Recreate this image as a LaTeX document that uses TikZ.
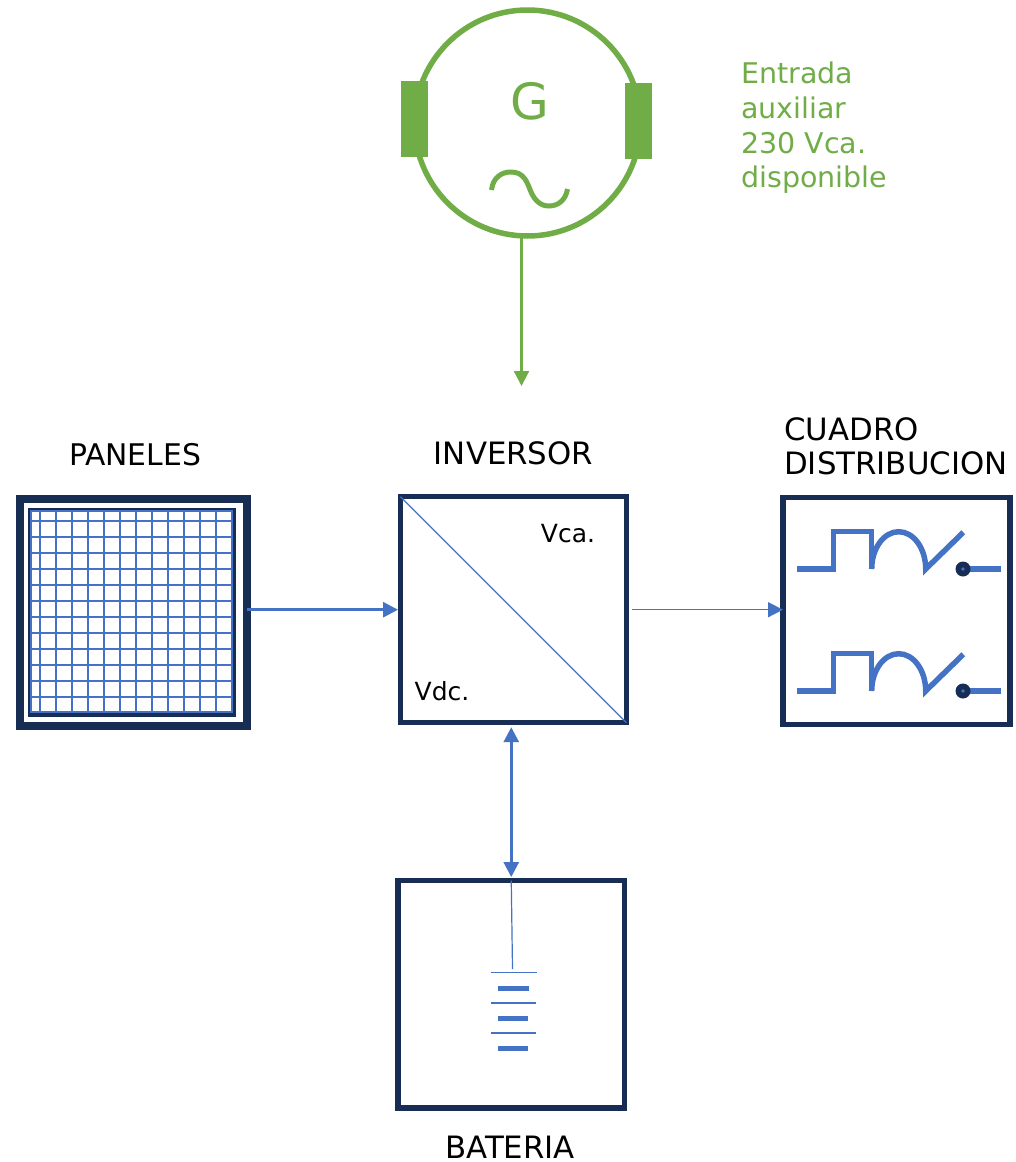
\documentclass[tikz,border=0pt]{standalone}
\usepackage{fontspec}
\setmainfont{DejaVu Sans}
\usetikzlibrary{arrows.meta}
\definecolor{navy}{HTML}{172D54}
\definecolor{cblue}{HTML}{4472C4}
\definecolor{cgreen}{HTML}{70AD47}
\tikzset{
  boxnode/.style={draw=navy,line width=5.5pt,rectangle,outer sep=0pt,inner sep=0pt},
  labelcap/.style={inner sep=0pt,text=black,font=\fontsize{30.8}{34}\selectfont},
  labelaux/.style={inner sep=0pt,text=cgreen,font=\fontsize{28.5}{34.7}\selectfont},
  label25/.style={inner sep=0pt,text=black,font=\fontsize{25}{30}\selectfont},
  tipb/.style={-{Triangle[length=15pt,width=15pt]}},
  tipbb/.style={{Triangle[length=15pt,width=15pt]}-{Triangle[length=15pt,width=15pt]}},
  bline/.style={draw=cblue,line width=5.5pt},
  gridline/.style={draw=cblue,line width=2pt},
}
\begin{document}
\begin{tikzpicture}[x=1pt,y=-1pt]
\useasboundingbox (0,0) rectangle (1015,1162);
% generator
\node[circle,draw=cgreen,line width=5.5pt,minimum size=226pt,inner sep=0pt,outer sep=0pt] (gen) at (527.5,123) {};
\node[fill=cgreen,minimum width=27pt,minimum height=76pt,inner sep=0pt,outer sep=0pt] (padl) at (414.5,118.5) {};
\node[fill=cgreen,minimum width=27pt,minimum height=76pt,inner sep=0pt,outer sep=0pt] (padr) at (638.5,120.5) {};
\node[inner sep=0pt,text=cgreen,font=\fontsize{50}{50}\selectfont] (gl) at (529.5,101.5) {G};
\draw[cgreen,line width=5pt] (491.5,190) .. controls (493,177) and (502,172) .. (511,172)
  .. controls (524,172) and (527,182) .. (531,192)
  .. controls (535,201) and (541,206) .. (549,206)
  .. controls (559,206) and (566,199) .. (567.5,189);
\node[labelaux,align=left,anchor=north west] (aux) at (741,62) {Entrada\\auxiliar\\230 Vca.\\disponible};
\coordinate (gout) at (521.5,236);
\coordinate (gend) at (521.5,386);
\draw[cgreen,line width=2.2pt,tipb] (gout) -- (gend);
% boxes
\node[boxnode,line width=8pt,minimum width=227pt,minimum height=227pt] (pan) at (133.5,612.5) {};
\node[boxnode,line width=3.5pt,minimum width=204pt,minimum height=205pt] (panin) at (132,612.5) {};
\foreach \i in {0,...,11} {
  \draw[gridline] (40+16*\i,511) -- (40+16*\i,712);
  \draw[gridline] (31,520.7+16*\i) -- (232,520.7+16*\i);
}
\draw[gridline] (31,511) -- (31,712) -- (232,712) -- (232,511) -- cycle;
\node[boxnode,minimum width=226pt,minimum height=226pt] (inv) at (513.5,609.7) {};
\node[boxnode,minimum width=227pt,minimum height=227pt] (cb) at (896.5,611) {};
\node[boxnode,minimum width=226.5pt,minimum height=227.5pt] (bat) at (511.25,994.3) {};
\draw[cblue,line width=1.2pt] (inv.north west) -- (inv.south east);
% connectors
\draw[cblue,line width=2.8pt,tipb] (pan.east |- inv.west) -- ([xshift=-2.5pt]inv.west);
\draw[cblue,line width=1.5pt,tipb,shorten <=5.5pt] (inv.east) -- (inv.east -| cb.west);
\draw[cblue,line width=2.8pt,tipbb,shorten <=4.5pt,shorten >=3.5pt] (bat.north |- inv.south) -- (bat.north);
% breakers
\foreach \dy in {0,122} {
\begin{scope}[shift={(0,\dy)}]
  \draw[bline,line join=miter] (796.7,569) -- (833.3,569) -- (833.3,531.7) -- (871.7,531.7) -- (871.7,569);
  \draw[bline] (871.7,569) .. controls (871.7,548.4) and (883.8,531.7) .. (898.7,531.7)
     .. controls (913.6,531.7) and (925.7,548.4) .. (925.7,569) -- (963.3,532.3);
  \draw[bline] (963,569) -- (1000.7,569);
  \fill[navy] (963,569) circle[radius=7.5pt];
  \fill[cblue] (963,569) circle[radius=1.8pt];
\end{scope}
}
% battery
\coordinate (bat1) at (512.5,969);
\draw[cblue,line width=1.2pt] (bat.north) -- (bat1);
\foreach \yy/\xa in {972.7/491,1003/490.5,1033/490.5}
  \draw[cblue,line width=1.4pt] (\xa,\yy) -- (\xa+45.5,\yy);
\foreach \yy/\xa in {988/498.3,1018/497.7,1048.5/497.7}
  \draw[cblue,line width=5pt] (\xa,\yy) -- (\xa+30.5,\yy);
% labels
\node[labelcap,font=\fontsize{29.8}{34}\selectfont] (lpan) at (135,455) {PANELES};
\node[labelcap] (linv) at (513.5,453) {INVERSOR};
\node[labelcap,align=left,anchor=north west] (lcb) at (784,417.5) {CUADRO\\DISTRIBUCION};
\node[labelcap] (lbat) at (510,1147.5) {BATERIA};
\node[label25] (vca) at (568,534) {Vca.};
\node[label25] (vdc) at (442,691) {Vdc.};
\end{tikzpicture}
\end{document}
